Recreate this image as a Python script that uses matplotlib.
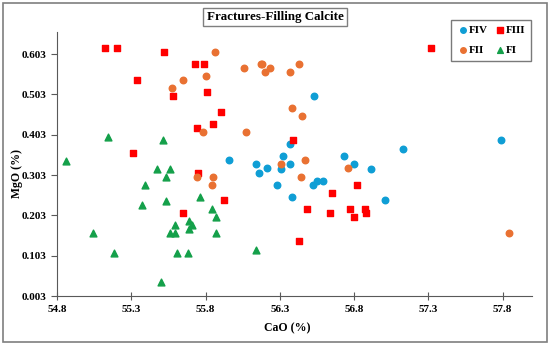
import matplotlib
matplotlib.use('Agg')
import matplotlib.pyplot as plt
from matplotlib.patches import Rectangle

# CaO (%), MgO (%) per group
fiv_cao = [56.53, 56.37, 55.96, 56.32, 56.14, 56.37, 56.21, 56.73, 56.80, 56.16,
           56.31, 56.28, 56.38, 56.52, 56.55, 56.59, 56.91, 57.01, 57.13, 57.79]
fiv_mgo = [0.499, 0.379, 0.340, 0.350, 0.330, 0.330, 0.320, 0.350, 0.330, 0.309,
           0.319, 0.279, 0.249, 0.279, 0.289, 0.289, 0.319, 0.240, 0.369, 0.389]

fiii_cao = [55.12, 55.20, 55.52, 55.73, 55.79, 55.34, 55.58, 55.81, 55.85, 55.74,
            55.31, 55.90, 56.39, 55.75, 55.65, 55.92, 56.65, 56.48, 56.64, 56.77,
            56.80, 56.82, 56.43, 56.87, 56.88, 57.32]
fiii_mgo = [0.619, 0.619, 0.608, 0.579, 0.579, 0.539, 0.499, 0.509, 0.429, 0.419,
            0.359, 0.459, 0.389, 0.309, 0.210, 0.240, 0.259, 0.219, 0.210, 0.219,
            0.200, 0.279, 0.139, 0.219, 0.210, 0.618]

fii_cao = [55.86, 55.65, 55.57, 55.80, 55.78, 56.06, 56.17, 56.18, 56.23, 56.20,
           56.37, 56.43, 56.38, 56.45, 56.07, 56.47, 56.31, 56.76, 55.74, 55.85,
           55.84, 56.44, 57.84]
fii_mgo = [0.608, 0.539, 0.519, 0.549, 0.409, 0.569, 0.579, 0.579, 0.569, 0.559,
           0.559, 0.579, 0.469, 0.449, 0.409, 0.340, 0.330, 0.320, 0.299, 0.299,
           0.279, 0.299, 0.159]

fi_cao = [55.14, 55.51, 54.86, 55.47, 55.56, 55.53, 55.39, 55.37, 55.53, 55.76,
          55.84, 55.87, 55.87, 55.59, 55.56, 55.59, 55.69, 55.71, 55.69, 55.04,
          55.18, 55.61, 55.68, 55.50, 56.14]
fi_mgo = [0.398, 0.389, 0.338, 0.318, 0.318, 0.298, 0.278, 0.229, 0.239, 0.249,
          0.218, 0.198, 0.159, 0.179, 0.159, 0.159, 0.189, 0.179, 0.169, 0.159,
          0.109, 0.109, 0.109, 0.038, 0.118]

x_ticks = [54.8, 55.3, 55.8, 56.3, 56.8, 57.3, 57.8]
y_ticks = [0.003, 0.103, 0.203, 0.303, 0.403, 0.503, 0.603]

serif = 'Liberation Serif'

fig = plt.figure(figsize=(5.5, 3.45), dpi=100)
ax = fig.add_axes([0.104, 0.142, 0.864, 0.764])

h_fiv = ax.scatter(fiv_cao, fiv_mgo, s=22, marker='o', color='#0F9ED5', label='FIV', zorder=3)
h_fiii = ax.scatter(fiii_cao, fiii_mgo, s=22, marker='s', color='#FF0000', label='FIII', zorder=3)
h_fii = ax.scatter(fii_cao, fii_mgo, s=22, marker='o', color='#E97132', label='FII', zorder=3)
h_fi = ax.scatter(fi_cao, fi_mgo, s=24, marker='^', color='#14A04A', label='FI', zorder=3)

ax.set_xlim(54.8, 58.0)
ax.set_ylim(0.003, 0.657)
ax.set_xticks(x_ticks)
ax.set_yticks(y_ticks)
ax.set_xticklabels([f'{v:.1f}' for v in x_ticks], fontfamily=serif, fontweight='bold', fontsize=8)
ax.set_yticklabels([f'{v:.3f}' for v in y_ticks], fontfamily=serif, fontweight='bold', fontsize=8)
ax.tick_params(direction='out', length=4, color='#595959', width=0.8)
ax.tick_params(axis='x', direction='inout', length=6)

for side in ['top', 'right']:
    ax.spines[side].set_visible(False)
for side in ['left', 'bottom']:
    ax.spines[side].set_color('#595959')
    ax.spines[side].set_linewidth(0.8)

ax.set_xlabel('CaO (%)', fontfamily=serif, fontweight='bold', fontsize=8.5)
ax.set_ylabel('MgO (%)', fontfamily=serif, fontweight='bold', fontsize=8.5)
ax.xaxis.set_label_coords(0.485, -0.1)
ax.yaxis.set_label_coords(-0.072, 0.466)

fig.text(0.5, 0.951, 'Fractures-Filling Calcite', ha='center', va='center',
         fontfamily=serif, fontweight='bold', fontsize=9.4,
         bbox=dict(boxstyle='square,pad=0.25', fc='white', ec='#7f7f7f', lw=1))

# column-wise fill so rows read FIV FIII / FII FI
leg = ax.legend([h_fiv, h_fii, h_fiii, h_fi], ['FIV', 'FII', 'FIII', 'FI'],
                ncol=2, loc='upper right', bbox_to_anchor=(0.998, 1.049),
                borderaxespad=0,
                prop={'family': serif, 'weight': 'bold', 'size': 8},
                frameon=True, fancybox=False, edgecolor='#595959',
                handletextpad=0.05, columnspacing=0.55, markerscale=0.85,
                borderpad=0.55, labelspacing=0.85, handlelength=1.0)
leg.get_frame().set_linewidth(1)

fig.patches.append(Rectangle((0.006, 0.01), 0.988, 0.98, transform=fig.transFigure,
                             fill=False, ec='#7f7f7f', lw=1.2))

fig.savefig('out.png', dpi=100)
